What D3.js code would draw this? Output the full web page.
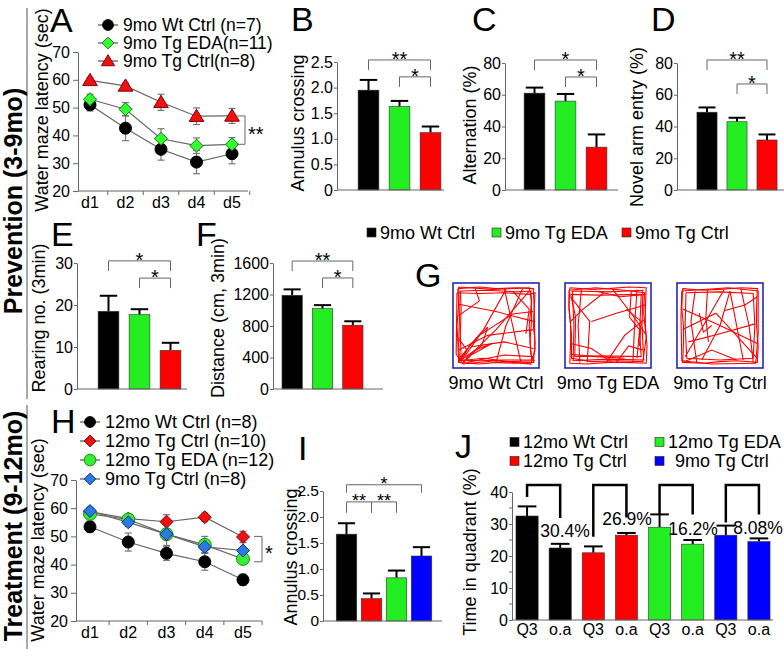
<!DOCTYPE html>
<html><head><meta charset="utf-8">
<script src="https://cdn.jsdelivr.net/npm/d3@7"></script>
<style>
body{margin:0;background:#fff}
svg{display:block;font-family:"Liberation Sans",Arial,sans-serif}
</style></head><body>
<script>
// ---------------- DATA ----------------
const days = ["d1","d2","d3","d4","d5"];
const waterTicks = [20,30,40,50,60,70];

// Panel A (prevention water maze)
const aNames = ["9mo Wt Ctrl (n=7)","9mo Tg EDA(n=11)","9mo Tg Ctrl(n=8)"];
const aWt = [51,42.6,35,30.4,33.4],  aWtErr = [2.2,4.5,3.9,4.2,3.6];
const aEDA = [53,49.4,38.8,36.3,36.8], aEDAErr = [1.8,2.4,3.6,2.8,2.4];
const aTg = [59.8,57.8,51.9,46.9,47], aTgErr = [1,1,2.9,3,2.7];

// Panels B-F (3 groups)
const groups9 = ["9mo Wt Ctrl","9mo Tg EDA","9mo Tg Ctrl"];
const colors9 = ["#000000","#22ee22","#ff0000"];
const bVals = [1.95,1.63,1.12], bErr = [0.2,0.11,0.12];
const cVals = [61,56,27],       cErr = [3.5,4.5,8];
const dVals = [49,43,31.5],     dErr = [3,2.5,3.5];
const eVals = [18.5,17.7,9.2],  eErr = [3.7,1.3,1.8];
const fVals = [1190,1020,810],  fErr = [75,45,50];
const bTicks = [0,0.5,1,1.5,2,2.5];
const pctTicks = [0,20,40,60,80];
const eTicks = [0,10,20,30];
const fTicks = [0,400,800,1200,1600];

// Panel H (treatment water maze)
const hNames = ["12mo Wt Ctrl (n=8)","12mo Tg Ctrl (n=10)","12mo Tg EDA (n=12)","9mo Tg Ctrl (n=8)"];
const hWt = [53.4,48,44,41,34.6],    hWtErr = [2,3.2,2.5,3,2];
const hTg = [58.8,56.3,55.2,56.8,49.8], hTgErr = [1.5,1.5,2.5,1.5,2];
const hEDA = [58,56,50.8,47,42],      hEDAErr = [1.5,1.5,4,3,1];
const h9Tg = [59,55,50.8,46.3,45],    h9TgErr = [1.2,1.5,2,2,1];

// Panel I
const groups12 = ["12mo Wt Ctrl","12mo Tg Ctrl","12mo Tg EDA","9mo Tg Ctrl"];
const colors12 = ["#000000","#ff0000","#22ee22","#0000ff"];
const iVals = [1.67,0.43,0.83,1.25], iErr = [0.21,0.1,0.14,0.17];

// Panel J
const jLabels = ["Q3","o.a","Q3","o.a","Q3","o.a","Q3","o.a"];
const jVals = [32.5,22.5,21,26.5,29,23.7,26.5,24.5];
const jErr  = [3,1.3,2,0.7,4,1.3,3,1];
const jPct = ["30.4%","26.9%","16.2%","8.08%"];
const jLegTop = 42.2;
const jLegs = [[38.4,31.9],[26,32],[33,33],[30.5,33]];
const jTicks = [0,10,20,30,40];
const jMinor = [5,15,25,35];

// Panel G tracks (normalized arena coordinates)
const tracksWt = [
 [[.04,.05],[.3,.03],[.5,.05],[.75,.04],[.95,.05],[.96,.3],[.95,.5],[.97,.7],[.95,.95],[.7,.96],[.5,.95],[.3,.97],[.05,.95],[.04,.7],[.03,.5],[.05,.25],[.04,.05]],
 [[.07,.08],[.4,.07],[.75,.09],[.92,.08],[.93,.4],[.91,.7],[.93,.92],[.6,.92],[.3,.93],[.08,.92],[.07,.6],[.08,.3],[.07,.08]],
 [[.03,.1],[.3,.11],[.6,.1],[.9,.12],[.97,.1],[.96,.3],[.97,.8],[.92,.97],[.5,.93],[.1,.97],[.02,.85],[.03,.1]],
 [[.05,.03],[.45,.06],[.9,.04],[.93,.2],[.9,.5],[.92,.85],[.96,.93],[.65,.94],[.35,.9],[.06,.93],[.05,.75],[.06,.4],[.05,.03]],
 [[.06,.9],[.35,.55],[.62,.06]],
 [[.1,.95],[.5,.55],[.9,.08]],
 [[.05,.8],[.4,.62],[.95,.55]],
 [[.12,.88],[.3,.62],[.7,.36],[.95,.33]],
 [[.05,.24],[.5,.33],[.95,.45]],
 [[.25,.05],[.3,.2],[.05,.38]],
 [[.6,.05],[.7,.5],[.8,.95]],
 [[.82,.05],[.62,.5],[.5,.95]],
 [[.2,.76],[.6,.7],[.95,.78]],
 [[.05,.95],[.2,.72],[.4,.52],[.33,.74],[.14,.9]],
 [[.7,.08],[.9,.3],[.86,.6]],
 [[.15,.95],[.6,.86],[.95,.88]],
 [[.05,.66],[.15,.8],[.08,.93]],
 [[.08,.92],[.25,.8],[.45,.72],[.2,.86],[.1,.96]]
];
const tracksEDA = [
 [[.04,.04],[.3,.06],[.5,.05],[.75,.03],[.96,.04],[.95,.3],[.95,.5],[.97,.75],[.96,.96],[.7,.95],[.5,.95],[.25,.97],[.04,.96],[.05,.7],[.05,.5],[.03,.25],[.04,.04]],
 [[.07,.08],[.5,.09],[.92,.07],[.91,.5],[.93,.92],[.5,.91],[.08,.93],[.09,.5],[.07,.08]],
 [[.05,.12],[.4,.13],[.9,.12],[.88,.6],[.9,.88],[.4,.87],[.1,.88],[.11,.4],[.05,.12]],
 [[.03,.07],[.35,.04],[.7,.07],[.94,.1],[.93,.35],[.96,.65],[.92,.94],[.6,.93],[.3,.94],[.06,.9],[.06,.6],[.03,.3],[.03,.07]],
 [[.05,.15],[.28,.45],[.25,.95]],
 [[.18,.06],[.14,.5],[.16,.95]],
 [[.3,.45],[.6,.35],[.95,.25]],
 [[.55,.05],[.78,.35],[.95,.6]],
 [[.48,.95],[.7,.62],[.95,.42]],
 [[.05,.72],[.3,.78],[.55,.95]],
 [[.85,.06],[.82,.5],[.8,.95]],
 [[.35,.08],[.65,.15],[.95,.12]],
 [[.05,.45],[.2,.3],[.45,.1]],
 [[.6,.95],[.75,.75],[.92,.8]],
 [[.05,.85],[.35,.88],[.7,.9]],
 [[.72,.3],[.9,.45],[.88,.75]],
 [[.78,.08],[.76,.4],[.88,.55],[.85,.9]]
];
const tracksTg = [
 [[.05,.05],[.3,.07],[.5,.06],[.75,.04],[.95,.05],[.94,.3],[.94,.5],[.96,.75],[.95,.95],[.7,.93],[.5,.94],[.3,.96],[.05,.95],[.06,.7],[.06,.5],[.04,.3],[.05,.05]],
 [[.09,.1],[.5,.09],[.9,.11],[.92,.5],[.9,.9],[.5,.92],[.1,.9],[.08,.5],[.09,.1]],
 [[.04,.08],[.6,.04],[.96,.08],[.96,.6],[.93,.96],[.4,.97],[.04,.93],[.03,.4],[.04,.08]],
 [[.05,.3],[.5,.5],[.95,.72]],
 [[.08,.88],[.3,.5],[.55,.06]],
 [[.28,.92],[.5,.5],[.62,.08],[.7,.5],[.78,.92]],
 [[.05,.55],[.45,.35],[.95,.9]],
 [[.35,.06],[.33,.4],[.36,.7]],
 [[.55,.32],[.8,.25],[.95,.15]],
 [[.12,.7],[.5,.6],[.92,.48]],
 [[.2,.08],[.15,.45],[.22,.95]],
 [[.75,.05],[.85,.5],[.9,.95]],
 [[.05,.95],[.4,.8],[.7,.92]],
 [[.4,.5],[.3,.58],[.25,.35]]
];
const gTracks = [tracksWt, tracksEDA, tracksTg];

// ---------------- DRAWING ----------------
const FONT = '"Liberation Sans",Arial,sans-serif';
const svg = d3.select("body").append("svg").attr("width",784).attr("height",649);
svg.append("rect").attr("width",784).attr("height",649).attr("fill","#fff");
const AX = "#666";
const LEGF = 18;

function txt(x,y,s,size,opts={}){
  const t = svg.append("text").attr("x",x).attr("y",y).text(s)
    .attr("font-size",size).attr("fill","#000");
  if(opts.anchor) t.attr("text-anchor",opts.anchor);
  if(opts.bold) t.attr("font-weight","bold");
  return t;
}
function vtxt(cx,cy,s,size,bold){
  svg.append("text").attr("transform",`translate(${cx},${cy}) rotate(-90)`)
    .attr("text-anchor","middle").attr("dy","0.35em").attr("font-size",size)
    .attr("font-weight",bold?"bold":"normal").text(s);
}
function styleAxis(g,fs){
  g.select(".domain").attr("stroke",AX);
  g.selectAll(".tick line").attr("stroke",AX);
  g.selectAll(".tick text").attr("fill","#000").attr("font-size",fs||16).attr("font-family",FONT);
}
function marker(g,shape,cx,cy,s,fill,stroke){
  if(shape==="circle"){
    g.append("circle").attr("cx",cx).attr("cy",cy).attr("r",s).attr("fill",fill).attr("stroke",stroke).attr("stroke-width",1);
  } else if(shape==="diamond"){
    g.append("path").attr("d",`M${cx},${cy-s}L${cx+s},${cy}L${cx},${cy+s}L${cx-s},${cy}Z`).attr("fill",fill).attr("stroke",stroke).attr("stroke-width",1);
  } else {
    g.append("path").attr("d",`M${cx},${cy-s}L${cx+s*1.05},${cy+s*0.75}L${cx-s*1.05},${cy+s*0.75}Z`).attr("fill",fill).attr("stroke",stroke).attr("stroke-width",1);
  }
}

function barPanel(o){
  const n = o.values.length;
  const x = d3.scaleBand().domain(d3.range(n)).range(o.band).paddingInner(o.pi).paddingOuter(o.po);
  const y = d3.scaleLinear().domain(o.domain).range([o.bottom,o.top]);
  const g = svg.append("g");
  const bw = x.bandwidth();
  o.values.forEach((v,i)=>{
    const cx = x(i)+bw/2, yt = y(v+o.errs[i]);
    g.append("line").attr("x1",cx).attr("x2",cx).attr("y1",y(v)).attr("y2",yt).attr("stroke","#000").attr("stroke-width",2);
    g.append("line").attr("x1",cx-bw*0.42).attr("x2",cx+bw*0.42).attr("y1",yt).attr("y2",yt).attr("stroke","#000").attr("stroke-width",2);
  });
  g.selectAll(null).data(o.values).join("rect")
    .attr("x",(d,i)=>x(i)).attr("width",bw)
    .attr("y",d=>y(d)).attr("height",d=>y(o.domain[0])-y(d))
    .attr("fill",(d,i)=>o.colors[i]).attr("stroke","#333").attr("stroke-width",0.6);
  const ax = g.append("g").attr("transform",`translate(${o.axisX},0)`)
    .call(d3.axisLeft(y).tickValues(o.ticks).tickSize(3).tickSizeOuter(0).tickPadding(1).tickFormat(o.fmt||(d=>d)));
  styleAxis(ax,o.tickFont);
  g.append("line").attr("x1",o.axisX).attr("x2",o.axisEnd).attr("y1",o.bottom).attr("y2",o.bottom).attr("stroke",AX);
  const sf = o.starFont||20;
  (o.brackets||[]).forEach(b=>{
    const xa = x(b[0])+bw/2, xb = x(b[1])+bw/2, yy = y(b[2]), leg = b[4]||10;
    g.append("path").attr("d",`M${xa},${yy+leg}V${yy}H${xb}V${yy+leg}`).attr("fill","none").attr("stroke",AX).attr("stroke-width",1);
    g.append("text").attr("x",(xa+xb)/2).attr("y",yy+sf*0.3).attr("text-anchor","middle").attr("font-size",sf).text(b[3]);
  });
  return {x,y,g};
}

function linePanel(o){
  const x = d3.scalePoint().domain(days).range([o.x1,o.x5]);
  const y = d3.scaleLinear().domain([20,70]).range([o.bottom,o.top]);
  const g = svg.append("g");
  const ax = g.append("g").attr("transform",`translate(${o.axisX},0)`)
    .call(d3.axisLeft(y).tickValues(waterTicks).tickSize(5).tickSizeOuter(0).tickPadding(3));
  styleAxis(ax);
  g.append("line").attr("x1",o.axisX).attr("x2",o.axisEnd).attr("y1",o.bottom).attr("y2",o.bottom).attr("stroke",AX);
  const step = x.step();
  days.forEach(d=>{
    const tx = x(d)+step/2;
    g.append("line").attr("x1",tx).attr("x2",tx).attr("y1",o.bottom).attr("y2",o.bottom+4).attr("stroke",AX);
    g.append("text").attr("x",x(d)).attr("y",o.bottom+17).attr("text-anchor","middle").attr("font-size",16).text(d);
  });
  o.series.forEach(s=>{
    s.values.forEach((v,i)=>{
      const cx = x(days[i]);
      const y1 = y(v+s.errs[i]), y2 = y(v-s.errs[i]);
      g.append("line").attr("x1",cx).attr("x2",cx).attr("y1",y1).attr("y2",y2).attr("stroke","#777").attr("stroke-width",1.2);
      [y1,y2].forEach(yy=>g.append("line").attr("x1",cx-3.5).attr("x2",cx+3.5).attr("y1",yy).attr("y2",yy).attr("stroke","#777").attr("stroke-width",1.2));
    });
  });
  const line = d3.line().x((d,i)=>x(days[i])).y(d=>y(d));
  o.series.forEach(s=>{
    g.append("path").attr("d",line(s.values)).attr("fill","none").attr("stroke","#666").attr("stroke-width",1.2);
  });
  o.series.forEach(s=>{
    s.values.forEach((v,i)=>marker(g,s.shape,x(days[i]),y(v),s.size,s.fill,s.stroke));
  });
  o.series.forEach((s,i)=>{
    const ly = o.legY + i*o.legStep;
    g.append("line").attr("x1",o.legX).attr("x2",o.legX+20).attr("y1",ly).attr("y2",ly).attr("stroke","#555").attr("stroke-width",1.2);
    marker(g,s.shape,o.legX+10,ly,s.size*0.9,s.fill,s.stroke);
    g.append("text").attr("x",o.legX+25).attr("y",ly+6).attr("font-size",o.legFont||LEGF).text(s.name);
  });
  const b = o.bracket;
  const ya = y(b.hi), yb = y(b.lo);
  g.append("path").attr("d",`M${b.x-8},${ya}H${b.x}V${yb}H${b.x-8}`).attr("fill","none").attr("stroke",AX);
  g.append("text").attr("x",b.x+3).attr("y",(ya+yb)/2+11).attr("font-size",20).text(b.label);
  return {x,y};
}

// ---- left side labels ----
svg.append("line").attr("x1",27).attr("x2",27).attr("y1",8).attr("y2",399).attr("stroke","#555");
svg.append("line").attr("x1",27).attr("x2",27).attr("y1",405).attr("y2",649).attr("stroke","#555");
vtxt(13,201,"Prevention (3-9mo)",25,true);
vtxt(13,526,"Treatment (9-12mo)",25,true);

// ---- Panel A ----
linePanel({
  x1:90,x5:232,axisX:78,axisEnd:248,top:52,bottom:191,
  legX:98,legY:25,legStep:18,legFont:17.5,
  series:[
    {name:aNames[0],values:aWt,errs:aWtErr,shape:"circle",size:6,fill:"#000",stroke:"#000"},
    {name:aNames[1],values:aEDA,errs:aEDAErr,shape:"diamond",size:6.5,fill:"#33ff33",stroke:"#117711"},
    {name:aNames[2],values:aTg,errs:aTgErr,shape:"triangle",size:7,fill:"#ee1111",stroke:"#880000"}
  ],
  bracket:{x:245,hi:47,lo:36.8,label:"**"}
});
txt(50,32,"A",34);
vtxt(42,110,"Water maze latency (sec)",18);

// ---- Panel B ----
barPanel({values:bVals,errs:bErr,colors:colors9,band:[353,446],pi:0.33,po:0.165,
  domain:[0,2.5],top:62,bottom:190,axisX:337,axisEnd:444,ticks:bTicks,
  fmt:d=>d===0?"0":d.toFixed(1),
  brackets:[[0,2,2.54,"**"],[1,2,2.21,"*"]]});
txt(291,31,"B",34);
vtxt(298,123,"Annulus crossing",18);

// ---- Panel C ----
barPanel({values:cVals,errs:cErr,colors:colors9,band:[519,612],pi:0.33,po:0.165,
  domain:[0,80],top:63,bottom:190,axisX:505,axisEnd:618,ticks:pctTicks,
  brackets:[[0,2,81.9,"*"],[1,2,71.2,"*"]]});
txt(472,31,"C",34);
vtxt(470,125,"Alternation (%)",18);

// ---- Panel D ----
barPanel({values:dVals,errs:dErr,colors:colors9,band:[692,782],pi:0.33,po:0.165,
  domain:[0,80],top:63,bottom:190,axisX:677,axisEnd:784,ticks:pctTicks,
  brackets:[[0,2,81.9,"**"],[1,2,66.8,"*"]]});
txt(651,31,"D",34);
vtxt(637,127,"Novel arm entry (%)",18);

// ---- legend for B-F ----
const legXs = [367,492,622];
groups9.forEach((gname,i)=>{
  svg.append("rect").attr("x",legXs[i]).attr("y",228).attr("width",9).attr("height",9)
    .attr("fill",colors9[i]).attr("stroke","#222").attr("stroke-width",0.6);
  txt(legXs[i]+13,238.5,gname,LEGF);
});

// ---- Panel E ----
barPanel({values:eVals,errs:eErr,colors:colors9,band:[93,186],pi:0.33,po:0.165,
  domain:[0,30],top:263,bottom:389,axisX:77,axisEnd:187,ticks:eTicks,
  brackets:[[0,2,30.5,"*"],[1,2,26.4,"*"]]});
txt(51,246,"E",34);
vtxt(39,318,"Rearing no. (3min)",18);

// ---- Panel F ----
barPanel({values:fVals,errs:fErr,colors:colors9,band:[277,368],pi:0.33,po:0.165,
  domain:[0,1600],top:263,bottom:389,axisX:273,axisEnd:383,ticks:fTicks,
  brackets:[[0,2,1625,"**"],[1,2,1410,"*"]]});
txt(196,246,"F",34);
vtxt(218,318,"Distance (cm, 3min)",18);

// ---- Panel G ----
txt(415,287,"G",34);
const gx = d3.scaleBand().domain(groups9).range([447.4,768.6]).paddingInner(0.232).paddingOuter(0.05);
groups9.forEach((gname,i)=>{
  const x0 = gx(gname), w = gx.bandwidth();
  const sx = d3.scaleLinear().domain([0,1]).range([x0+1.5,x0+w-1.5]);
  const sy = d3.scaleLinear().domain([0,1]).range([284.5,366.5]);
  const ln = d3.line().x(d=>sx(d[0])).y(d=>sy(d[1]));
  gTracks[i].forEach(tr=>{
    svg.append("path").attr("d",ln(tr)).attr("fill","none").attr("stroke","#ff0000").attr("stroke-width",1.1);
  });
  svg.append("rect").attr("x",x0).attr("y",283).attr("width",w).attr("height",85)
    .attr("fill","none").attr("stroke","#1a1aa8").attr("stroke-width",1.5);
  txt(x0+w/2,389,gname,LEGF,{anchor:"middle"});
});

// ---- Panel H ----
linePanel({
  x1:90,x5:243,axisX:76,axisEnd:262,top:480,bottom:621,
  legX:80,legY:422,legStep:19,
  series:[
    {name:hNames[0],values:hWt,errs:hWtErr,shape:"circle",size:6,fill:"#000",stroke:"#000"},
    {name:hNames[1],values:hTg,errs:hTgErr,shape:"diamond",size:6.5,fill:"#ee1111",stroke:"#880000"},
    {name:hNames[2],values:hEDA,errs:hEDAErr,shape:"circle",size:6.5,fill:"#33ee33",stroke:"#228822"},
    {name:hNames[3],values:h9Tg,errs:h9TgErr,shape:"diamond",size:6.5,fill:"#2a7ae0",stroke:"#10309a"}
  ],
  bracket:{x:262,hi:50,lo:41,label:"*"}
});
txt(51,433,"H",34);
vtxt(38,540,"Water maze latency (sec)",18);

// ---- Panel I ----
barPanel({values:iVals,errs:iErr,colors:colors12,band:[334,434],pi:0.18,po:0.09,
  domain:[0,2.5],top:491,bottom:621,axisX:323,axisEnd:442,ticks:bTicks,tickFont:15.5,starFont:18,
  fmt:d=>d===0?"0":d.toFixed(1),
  brackets:[[0,3,2.62,"*",8],[0,1,2.29,"**",11],[1,2,2.29,"**",11]]});
txt(298,460,"I",34);
vtxt(291,557,"Annulus crossing",18);

// ---- Panel J ----
const jColors = jVals.map((v,i)=>colors12[Math.floor(i/2)]);
const J = barPanel({values:jVals,errs:jErr,colors:jColors,band:[510.5,775.5],pi:0.33,po:0.165,
  domain:[0,40],top:492,bottom:620,axisX:512,axisEnd:773,ticks:jTicks});
jMinor.forEach(v=>{
  svg.append("line").attr("x1",509).attr("x2",512).attr("y1",J.y(v)).attr("y2",J.y(v)).attr("stroke",AX);
});
jLabels.forEach((l,i)=>{
  txt(J.x(i)+J.x.bandwidth()/2,635,l,16,{anchor:"middle"});
});
const jbw = J.x.bandwidth();
jPct.forEach((p,k)=>{
  const xa = J.x(2*k)+jbw/2, xb = J.x(2*k+1)+jbw/2, yt = J.y(jLegTop);
  svg.append("path").attr("d",`M${xa},${J.y(jLegs[k][0])}V${yt}H${xb}V${J.y(jLegs[k][1])}`)
    .attr("fill","none").attr("stroke","#000").attr("stroke-width",2.5);
});
const pctPos = [[565,537],[627,525],[693,535],[758,534]];
jPct.forEach((p,k)=>txt(pctPos[k][0],pctPos[k][1],p,17.5,{anchor:"middle"}));
txt(455,458,"J",34);
vtxt(470,552,"Time in quadrant (%)",18);
const jLeg = [[510,442,0],[510,461,1],[655,442,2],[655,461,3]];
jLeg.forEach(([lx,ly,k])=>{
  svg.append("rect").attr("x",lx).attr("y",ly-4.5).attr("width",9).attr("height",9)
    .attr("fill",colors12[k]).attr("stroke","#222").attr("stroke-width",0.6);
  txt(lx+(k===3?20:13),ly+6,groups12[k],LEGF);
});
</script>
</body></html>
